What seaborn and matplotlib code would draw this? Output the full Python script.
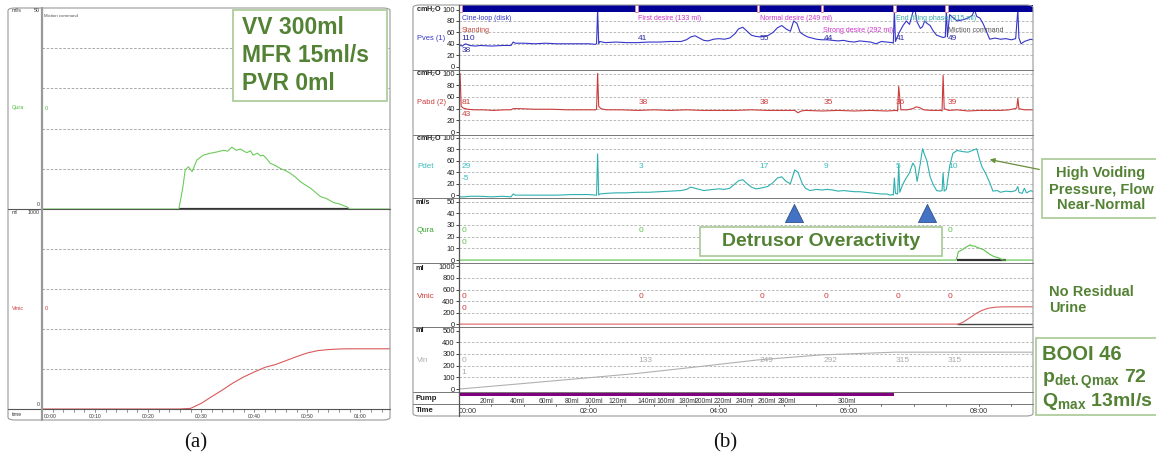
"""
plot.py - urodynamic study: (a) free uroflowmetry, (b) pressure-flow study.
"""
import matplotlib
matplotlib.use("Agg")
import matplotlib.pyplot as plt
import seaborn as sns
from matplotlib.patches import Rectangle, FancyBboxPatch, FancyArrowPatch
from matplotlib.lines import Line2D
from matplotlib.transforms import blended_transform_factory

# ---------------- panel (a): free uroflowmetry (time in s) ----------------
a_flow_t = [0, 25.8, 26.5, 27.0, 27.6, 28.3, 29.2, 30.4, 31.5, 33.0,
            34.2, 35.0, 35.8, 36.6, 37.4, 38.6, 39.3, 39.8, 40.6, 41.2,
            41.7, 42.3, 43.0, 44.0, 44.9, 45.8, 46.8, 47.8, 48.7, 49.6,
            50.6, 51.5, 52.5, 53.6, 55.0, 56.2, 57.5, 58.0, 65.6]
a_flow = [0, 0, 5, 9.7, 10.5, 9.3, 12.2, 13.4, 13.8, 14.2,
          14.6, 14.4, 15.4, 14.6, 14.9, 14.0, 14.5, 13.4, 13.9, 13.2,
          13.4, 12.6, 11.4, 10.8, 10.1, 9.6, 8.9, 7.9, 6.8, 6.0,
          5.2, 4.2, 3.1, 2.6, 1.6, 1.2, 0.5, 0, 0]
a_vol_t = [0, 25.8, 28, 30, 32, 34, 36, 38, 40, 42, 44, 46, 48, 50, 52, 54, 56, 58, 65.6]
a_vol = [0, 0, 3, 28, 62, 95, 130, 160, 185, 208, 222, 242, 262, 280, 292, 297, 300, 301, 301]
a_flow_period = [25.8, 57.8]
a_time_ticks = [0, 10, 20, 30, 40, 50, 60]
a_time_labels = ["00:00", "00:10", "00:20", "00:30", "00:40", "00:50", "01:00"]
a_summary = ["VV 300ml", "MFR 15ml/s", "PVR 0ml"]

# ---------------- panel (b): filling cystometry + pressure flow (s) ----------------
pves_t = [0, 3, 6, 10, 15, 20, 30, 40, 48, 50, 52, 60, 70, 80, 90, 100, 110, 120, 126, 127,
          128, 129, 130, 135, 145, 155, 165, 175, 185, 195, 205, 210, 214, 218, 222, 226, 230, 235, 240, 245,
          250, 255, 258, 262, 266, 270, 274, 278, 285, 290, 294, 298, 302, 306, 309, 312, 315, 318, 322, 326,
          330, 335, 340, 345, 350, 355, 360, 365, 370, 375, 380, 385, 390, 395, 400, 401, 402, 403, 406, 410,
          413, 416, 419, 421, 423, 426, 428, 430, 432, 435, 438, 441, 444, 447, 449, 450, 451, 453, 456, 460,
          465, 470, 474, 476, 478, 481, 484, 487, 490, 495, 500, 505, 510, 514, 516, 517, 519, 522, 525, 528, 530]
pves = [38, 36, 40, 37, 36, 37, 36, 37, 37, 43, 41, 41, 40, 41, 40, 40, 40, 40, 39, 40,
        100, 40, 44, 42, 43, 42, 42, 43, 43, 44, 44, 47, 52, 54, 50, 46, 45, 48, 49, 48,
        50, 58, 66, 69, 62, 55, 53, 52, 54, 60, 68, 72, 66, 62, 80, 76, 60, 56, 52, 50,
        48, 47, 47, 46, 45, 46, 44, 43, 45, 44, 43, 40, 44, 43, 42, 41, 100, 44, 58, 72,
        80, 74, 95, 100, 78, 67, 70, 80, 76, 72, 62, 55, 53, 51, 52, 100, 52, 91, 86, 80,
        82, 85, 90, 100, 88, 85, 75, 62, 48, 50, 48, 49, 47, 49, 100, 50, 40, 44, 46, 48, 47]

pabd_t = [0, 1, 2, 4, 8, 14, 22, 32, 42, 48, 50, 56, 70, 85, 100, 115, 126, 127, 128, 129,
          131, 136, 150, 165, 180, 195, 210, 225, 240, 255, 270, 285, 300, 310, 313, 316, 320, 335, 350, 365,
          380, 395, 404, 405, 406, 408, 414, 419, 422, 425, 429, 436, 445, 446, 447, 448, 452, 460, 470, 480,
          490, 500, 508, 513, 515, 516, 517, 522, 530]
pabd = [43, 100, 44, 41, 39, 38, 38, 37, 38, 38, 40, 40, 39, 39, 38, 38, 38, 39, 100, 44,
        40, 38, 38, 37, 38, 37, 38, 37, 37, 37, 38, 37, 37, 37, 33, 36, 37, 36, 37, 36,
        37, 36, 37, 36, 78, 38, 38, 40, 43, 42, 38, 37, 37, 36, 97, 40, 37, 38, 36, 37,
        37, 37, 38, 40, 41, 58, 40, 38, 38]

pdet_t = [0, 5, 10, 20, 30, 40, 48, 50, 52, 60, 75, 90, 105, 120, 126, 127, 128, 129, 130, 135,
          145, 155, 165, 175, 185, 195, 205, 210, 214, 218, 222, 226, 230, 235, 240, 245, 250, 255, 258, 262,
          266, 270, 274, 278, 285, 290, 294, 298, 302, 306, 310, 313, 317, 320, 324, 330, 335, 340, 345, 350,
          355, 360, 365, 370, 375, 380, 385, 390, 395, 398, 400, 401, 402, 403, 405, 406, 407, 410, 413, 416,
          419, 421, 423, 426, 428, 430, 432, 435, 438, 441, 444, 446, 447, 448, 450, 453, 456, 460, 465, 470,
          474, 478, 481, 483, 486, 490, 493, 497, 500, 505, 510, 514, 516, 517, 520, 522, 524, 528, 530]
pdet = [-3, -3, -2, -2, -3, -2, -3, 2, 0, 0, 0, 0, 1, 1, 0, 0, 72, 0, 2, 3,
        4, 4, 5, 5, 6, 7, 8, 10, 14, 12, 10, 8, 9, 10, 11, 10, 12, 20, 25, 27,
        20, 14, 11, 12, 15, 22, 30, 32, 24, 20, 44, 40, 20, 12, 8, 10, 9, 10, 9, 7,
        8, 7, 6, 6, 5, 4, 3, 2, 2, 0, 1, 0, 30, 3, 2, 53, 5, 20, 30, 39,
        56, 50, 24, 56, 81, 70, 60, 32, 18, 8, 7, 8, 39, 7, 10, 50, 73, 78, 76, 75,
        78, 81, 60, 49, 39, 22, 7, 8, 5, 7, 6, 8, 15, 5, 3, 12, 4, 8, 6]

qura_t = [0, 459, 460, 461, 463, 465, 468, 470, 472, 474, 476, 478, 481, 484, 487, 490, 494, 498, 502, 530]
qura = [0, 0, 3, 7, 8, 9, 11, 12, 13, 12, 12, 11, 10, 9, 7, 5, 3, 2, 0, 0]
flow_period = [460, 505]

vmic_t = [0, 460, 462, 466, 470, 474, 478, 482, 486, 490, 495, 500, 505, 530]
vmic = [0, 0, 5, 40, 90, 140, 190, 230, 260, 280, 293, 298, 300, 300]

vin_t = [0, 60, 120, 164, 220, 276, 335, 402, 530]
vin = [0, 48, 97, 133, 190, 249, 292, 315, 315]

event_t = [1, 164, 276, 335, 402, 450]
event_names = ["Cine-loop (disk)", "First desire (133 ml)", "Normal desire (249 ml)",
               "Strong desire (292 ml)", "End filling phase (315 ml)", "Miction command"]
pves_marks = ["110", "41", "55", "44", "41", "49"]
pabd_marks = ["81", "38", "38", "35", "36", "39"]
pdet_marks = ["29", "3", "17", "9", "5", "10"]
qura_marks = ["0", "0", "0", "0", "0", "0"]
vmic_marks = ["0", "0", "0", "0", "0", "0"]
vin_marks = ["0", "133", "249", "292", "315", "315"]
second_marks = {"pves": "38", "pabd": "43", "pdet": "-5", "qura": "0", "vmic": "0", "vin": "1"}

pump_end = 402
pump_label_t = [26, 54, 80, 104, 124, 147, 173, 191, 211, 226, 244, 264, 284, 303, 358]
pump_labels = ["20ml", "40ml", "60ml", "80ml", "100ml", "120ml", "140ml", "160ml", "180ml",
               "200ml", "220ml", "240ml", "260ml", "280ml", "300ml"]
b_time_ticks = [0, 120, 240, 360, 480]
b_time_labels = ["00:00", "02:00", "04:00", "06:00", "08:00"]
do_t = [309, 432]   # detrusor overactivity waves

# ---------------- style ----------------
sns.set_theme(style="white")
plt.rcParams["font.family"] = ["Liberation Sans", "DejaVu Sans"]
plt.rcParams["mathtext.fontset"] = "custom"
plt.rcParams["mathtext.rm"] = "Liberation Sans"
plt.rcParams["mathtext.it"] = "Liberation Sans:italic"
plt.rcParams["mathtext.bf"] = "Liberation Sans:bold"

BLUE, RED, TEAL, GREEN = "#3535c8", "#cc3b3b", "#2fb0b0", "#5cc24a"
VIN_C, NAVY, PURPLE = "#b0b0b0", "#000099", "#800080"
ANN, ANN_EDGE = "#548235", "#a9c895"
GRID = "#b0b0b0"

W, H = 1156, 458
fig = plt.figure(figsize=(W / 100, H / 100), dpi=100)
fig.patch.set_facecolor("white")


def fbox(x0, y0, x1, y1):
    return [x0 / W, 1 - y1 / H, (x1 - x0) / W, (y1 - y0) / H]


def ftext(x, y, s, **kw):
    kw.setdefault("va", "center")
    return fig.text(x / W, 1 - y / H, s, **kw)


def fline(x0, y0, x1, y1, **kw):
    fig.add_artist(Line2D([x0 / W, x1 / W], [1 - y0 / H, 1 - y1 / H],
                          transform=fig.transFigure, **kw))


def frect(x0, y0, x1, y1, **kw):
    fig.add_artist(Rectangle((x0 / W, 1 - y1 / H), (x1 - x0) / W, (y1 - y0) / H,
                             transform=fig.transFigure, **kw))


def bare_axes(rect, xlim, ylim):
    ax = fig.add_axes(rect)
    ax.set_xlim(*xlim)
    ax.set_ylim(*ylim)
    ax.set_facecolor("none")
    for s in ax.spines.values():
        s.set_visible(False)
    ax.set_xticks([])
    ax.set_yticks([])
    return ax


def trace(ax, t, v, color, lw=0.8):
    sns.lineplot(x=t, y=v, ax=ax, color=color, lw=lw, estimator=None, sort=False)
    ax.set_xlabel("")
    ax.set_ylabel("")


# ======================= panel (a) =======================
fig.add_artist(FancyBboxPatch((8 / W, 1 - 420 / H), 382 / W, 412 / H,
                              boxstyle="round,pad=0,rounding_size=0.006",
                              transform=fig.transFigure, fc="none", ec="#9a9a9a", lw=0.8))

ax_aq = bare_axes(fbox(42, 8, 390, 209), (0, 65.6), (0, 50))
for g in [10, 20, 30, 40]:
    ax_aq.axhline(g, color="#9a9a9a", lw=0.6, ls=(0, (3, 2)), zorder=0)
ax_aq.hlines(0, *a_flow_period, color="#333333", lw=1.6, zorder=1)
trace(ax_aq, a_flow_t, a_flow, "#6ccc5a")

ax_av = bare_axes(fbox(42, 209, 390, 409), (0, 65.6), (0, 1000))
for g in [200, 400, 600, 800]:
    ax_av.axhline(g, color="#9a9a9a", lw=0.6, ls=(0, (3, 2)), zorder=0)
trace(ax_av, a_vol_t, a_vol, "#d85a5a")

ax_at = bare_axes(fbox(42, 409, 390, 420), (0, 65.6), (0, 1))
for t in range(0, 66, 2):
    ax_at.plot([t, t], [1, 0.72], color="#666666", lw=0.5)
for t, lab in zip(a_time_ticks, a_time_labels):
    ax_at.text(t + (0.4 if t == 0 else 0), 0.3, lab, ha="left" if t == 0 else "center",
               va="center", fontsize=3.6, color="#333333")

fline(8, 209, 390, 209, color="#555555", lw=0.8)
fline(8, 409, 390, 409, color="#555555", lw=0.8)
fline(42, 8, 42, 420, color="#999999", lw=1.6)

small = dict(fontsize=3.8, color="#333333")
ftext(12, 11, "ml/s", **small)
ftext(40, 11, "50", ha="right", **small)
ftext(44, 16, "Miction command", fontsize=3.2, color="#555555")
ftext(12, 108, "Qura", fontsize=4, color="#4cb83c")
ftext(45, 108, "0", fontsize=4, color="#4cb83c")
ftext(40, 205, "0", ha="right", **small)
ftext(12, 212, "ml", **small)
ftext(40, 212, "1000", ha="right", **small)
ftext(12, 308, "Vmic", fontsize=4, color=RED)
ftext(45, 308, "0", fontsize=4, color=RED)
ftext(40, 405, "0", ha="right", **small)
ftext(12, 415, "time", **small)

frect(233, 10, 387, 101, fc="white", ec=ANN_EDGE, lw=1.2)
for i, s in enumerate(a_summary):
    ftext(242, 28 + i * 28, s, fontsize=16.5, fontweight="bold", color=ANN)

ftext(196, 443, "(a)", ha="center", fontsize=15, family="Liberation Serif", color="#111111")

# ======================= panel (b) =======================
fig.add_artist(FancyBboxPatch((413 / W, 1 - 416 / H), 620 / W, 411 / H,
                              boxstyle="round,pad=0,rounding_size=0.006",
                              transform=fig.transFigure, fc="none", ec="#9a9a9a", lw=0.8))


def channel(top, bot, ylim, ticks, grid):
    ax = bare_axes(fbox(459, top, 1033, bot), (0, 530), ylim)
    ax.set_yticks(ticks)
    ax.set_yticklabels([str(v) for v in ticks])
    ax.tick_params(axis="y", labelsize=5.5, length=2, width=0.6, pad=1, colors="#222222", left=True)
    for g in grid:
        ax.axhline(g, color=GRID, lw=0.6, ls=(0, (3, 2)), zorder=0)
    return ax


p_ticks = [0, 20, 40, 60, 80, 100]
ax_pves = channel(5, 70, (-6, 108), p_ticks, [20, 40, 60, 80])
ax_pabd = channel(70, 135, (-5, 106), p_ticks, [20, 40, 60, 80, 100])
ax_pdet = channel(135, 198, (-5, 105), p_ticks, [20, 40, 60, 80, 100])
ax_qura = channel(198, 263, (-2.5, 53), [0, 10, 20, 30, 40, 50], [10, 20, 30, 40, 50])
ax_vmic = channel(263, 327, (-50, 1060), [0, 200, 400, 600, 800, 1000], [200, 400, 600, 800])
ax_vin = channel(327, 392, (-25, 530), [0, 100, 200, 300, 400, 500], [100, 200, 300, 400])

trace(ax_pves, pves_t, pves, BLUE)
trace(ax_pabd, pabd_t, pabd, RED)
trace(ax_pdet, pdet_t, pdet, TEAL)
ax_qura.hlines(0, *flow_period, color="#333333", lw=1.6, zorder=1)
trace(ax_qura, qura_t, qura, GREEN)
ax_vmic.hlines(0, flow_period[0], 530, color="#444444", lw=1.0, zorder=1)
trace(ax_vmic, vmic_t, vmic, "#d86060")
trace(ax_vin, vin_t, vin, VIN_C)

# event bar on top of Pves
tr = blended_transform_factory(ax_pves.transData, ax_pves.transAxes)
ax_pves.add_patch(Rectangle((0, 0.892), 530, 0.108, transform=tr, fc=NAVY, ec="none", zorder=3))
for t in event_t:
    ax_pves.add_patch(Rectangle((t - 1.2, 0.892), 2.6, 0.108, transform=tr,
                                fc="white", ec="#e07aa0", lw=0.6, zorder=4))

ev_rows = [19, 19, 19, 30, 19, 30]
ev_colors = [BLUE, "#cc33cc", "#cc33cc", "#cc33cc", "#33aaaa", "#555555"]
for t, name, y, c in zip(event_t, event_names, ev_rows, ev_colors):
    ax_pves.annotate(name, xy=(t + 1.5, H - y), xycoords=("data", "figure pixels"),
                     fontsize=5, color=c, va="center")
ax_pves.annotate("Standing", xy=(event_t[0] + 1.5, H - 30), xycoords=("data", "figure pixels"),
                 fontsize=5, color="#c04a3a", va="center")


def readouts(ax, marks, second, y1, color):
    for t, s in zip(event_t, marks):
        ax.annotate(s, xy=(t + 1.5, H - y1), xycoords=("data", "figure pixels"),
                    fontsize=6, color=color, va="center")
    ax.annotate(second, xy=(event_t[0] + 1.5, H - y1 - 12), xycoords=("data", "figure pixels"),
                fontsize=6, color=color, va="center")


readouts(ax_pves, pves_marks, second_marks["pves"], 38, "#2a2aa0")
readouts(ax_pabd, pabd_marks, second_marks["pabd"], 102, RED)
readouts(ax_pdet, pdet_marks, second_marks["pdet"], 166, "#3bbcbc")
readouts(ax_qura, qura_marks, second_marks["qura"], 231, GREEN)
readouts(ax_vmic, vmic_marks, second_marks["vmic"], 296, RED)
readouts(ax_vin, vin_marks, second_marks["vin"], 361, "#aaaaaa")

# pump row
ax_pump = bare_axes(fbox(459, 392, 1033, 404), (0, 530), (0, 1))
ax_pump.add_patch(Rectangle((0, 0.66), pump_end, 0.28, fc=PURPLE, ec="none"))
for t, lab in zip(pump_label_t, pump_labels):
    ax_pump.text(t, 0.22, lab, ha="center", va="center", fontsize=4.9, color="#333333")

# time row
ax_time = bare_axes(fbox(459, 404, 1033, 416), (0, 530), (0, 1))
for t in range(0, 531, 30):
    ax_time.plot([t, t], [1, 0.8], color="#555555", lw=0.6)
for t, lab in zip(b_time_ticks, b_time_labels):
    ax_time.text(t, 0.35, lab, ha="left" if t == 0 else "center", va="center",
                 fontsize=5.2, color="#333333")

for y in [70, 135, 198, 263, 327, 392, 404]:
    fline(413, y, 1033, y, color="#777777", lw=0.7)
fline(459, 5, 459, 416, color="#555555", lw=0.9)

# left label column
lab = dict(fontsize=5.2, color="#222222")
for y in [10, 74, 139]:
    ftext(416, y, r"cmH$_2$O", fontweight="bold", **lab)
ftext(416, 203, "ml/s", fontweight="bold", **lab)
ftext(416, 268, "ml", fontweight="bold", **lab)
ftext(416, 331, "ml", fontweight="bold", **lab)
ftext(417, 38, "Pves (1)", fontsize=5.4, color=BLUE)
ftext(417, 102, "Pabd (2)", fontsize=5.4, color=RED)
ftext(417, 166, "Pdet", fontsize=5.8, color="#3bbcbc")
ftext(417, 231, "Qura", fontsize=5.8, color="#3aa830")
ftext(417, 296, "Vmic", fontsize=5.8, color=RED)
ftext(417, 361, "Vin", fontsize=5.8, color="#b0b0b0")
ftext(416, 398, "Pump", fontweight="bold", fontsize=5.6, color="#222222")
ftext(416, 410, "Time", fontweight="bold", fontsize=5.6, color="#222222")

# detrusor overactivity markers and callouts
sns.scatterplot(x=do_t, y=[40, 40], ax=ax_qura, marker="^", s=170, color="#4472c4",
                edgecolor="#2f528f", linewidth=0.6, zorder=5, legend=False)

frect(700, 227, 942, 256, fc="white", ec=ANN_EDGE, lw=1.2)
ftext(821, 242, "Detrusor Overactivity", ha="center", fontsize=14, fontweight="bold", color=ANN)

frect(1042, 159, 1160, 218, fc="white", ec=ANN_EDGE, lw=1.2)
ftext(1101, 189, "High Voiding\nPressure, Flow\nNear-Normal", ha="center", fontsize=10.5,
      fontweight="bold", color=ANN, linespacing=1.15)
fig.add_artist(FancyArrowPatch((1042 / W, 1 - 170 / H), (987 / W, 1 - 159 / H),
                               transform=fig.transFigure, arrowstyle="-|>",
                               mutation_scale=7, color="#6a8f3a", lw=0.9))

ftext(1049, 300, "No Residual\nUrine", ha="left", fontsize=10.5, fontweight="bold",
      color=ANN, linespacing=1.15)

frect(1036, 338, 1160, 415, fc="white", ec=ANN_EDGE, lw=1.2)
ftext(1042, 354, "BOOI 46", fontsize=14.5, fontweight="bold", color=ANN)
ftext(1042, 379, r"$\mathbf{p_{det.Qmax}}$ 72", fontsize=14, fontweight="bold", color=ANN)
ftext(1042, 402, r"$\mathbf{Q_{max}}$ 13ml/s", fontsize=14, fontweight="bold", color=ANN)

ftext(725, 443, "(b)", ha="center", fontsize=15, family="Liberation Serif", color="#111111")

fig.savefig("out.png", dpi=100)
